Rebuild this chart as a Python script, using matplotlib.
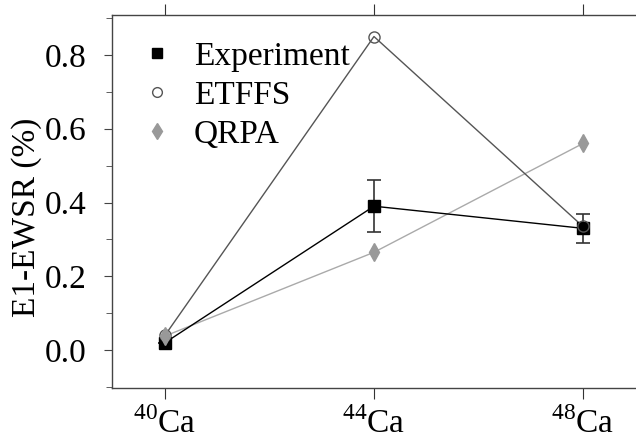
import matplotlib
matplotlib.use("Agg")
import matplotlib.pyplot as plt
from matplotlib.lines import Line2D
import numpy as np

plt.rcParams['font.family'] = 'Liberation Serif'
plt.rcParams['mathtext.fontset'] = 'custom'
plt.rcParams['mathtext.rm'] = 'Liberation Serif'

isotopes = [r'$^{40}\mathrm{Ca}$', r'$^{44}\mathrm{Ca}$', r'$^{48}\mathrm{Ca}$']
experiment = [0.02, 0.39, 0.33]
experiment_err = [0.0, 0.07, 0.04]
etffs = [0.04, 0.85, 0.335]
qrpa = [0.038, 0.265, 0.56]

x = np.arange(len(isotopes))

fig = plt.figure(figsize=(6.36, 4.45), dpi=100)
ax = fig.add_axes([0.176, 0.128, 0.824, 0.838])

ax.plot(x, qrpa, color="#aaaaaa", lw=1, zorder=2)
ax.plot(x, etffs, color="#555555", lw=1, zorder=2)
ax.errorbar(x, experiment, yerr=experiment_err, color="black", lw=1,
            ecolor="#333333", elinewidth=1.2, capsize=5, capthick=1.2,
            marker="s", ms=8, zorder=3)
ax.plot(x, etffs, ls="none", marker="o", ms=8, mfc="none", mec="#555555",
        mew=1, zorder=4)
ax.plot(x, qrpa, ls="none", marker="d", ms=9, color="#999999", zorder=4)

ax.set_xlim(-0.254, 2.254)
ax.set_ylim(-0.103, 0.908)
ax.set_xticks(x)
ax.set_xticklabels(isotopes, fontsize=24)
ax.set_yticks([0.0, 0.2, 0.4, 0.6, 0.8])
ax.set_yticks(np.arange(-0.1, 0.91, 0.1), minor=True)
ax.tick_params(axis='y', labelsize=24, length=6, color="#444444", pad=12)
ax.tick_params(axis='y', which='minor', length=4, color="#444444")
ax.tick_params(axis='x', top=True, length=8, color="#333333", pad=6)
ax.set_ylabel("E1-EWSR (%)", fontsize=24)
ax.yaxis.set_label_coords(-0.134, 0.458)

ax.spines['right'].set_visible(False)
for s in ['left', 'top', 'bottom']:
    ax.spines[s].set_color("#444444")
    ax.spines[s].set_linewidth(1)

handles = [
    Line2D([], [], ls="none", marker="s", ms=7, color="black"),
    Line2D([], [], ls="none", marker="o", ms=7, mfc="none", mec="#555555"),
    Line2D([], [], ls="none", marker="d", ms=8, color="#999999"),
]
ax.legend(handles, ["Experiment", "ETFFS", "QRPA"], loc="upper left",
          frameon=False, fontsize=24, handletextpad=0.5, handlelength=1.2,
          labelspacing=0.25, borderaxespad=0.0, bbox_to_anchor=(0.023, 0.965))

fig.savefig("out.png", dpi=100)
